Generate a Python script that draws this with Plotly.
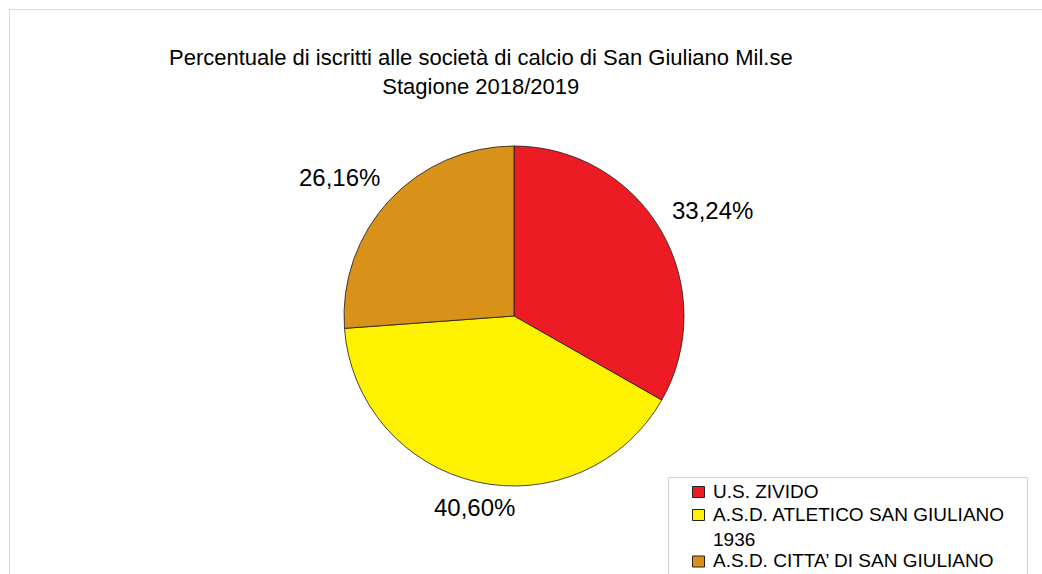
import math
import plotly.graph_objects as go

# Membership share per club, season 2018/2019
clubs = ["U.S. ZIVIDO", "A.S.D. ATLETICO SAN GIULIANO<br>1936", "A.S.D. CITTA’ DI SAN GIULIANO"]
shares = [33.24, 40.60, 26.16]
colors = ["#ED1C24", "#FFF200", "#D8921A"]

W, H = 1042, 574
FONT = "Liberation Sans"


def px_x(x):
    return x / W


def px_y(y):
    return 1 - y / H


# pie geometry in pixels
cx_px, cy_px, r_px = 514, 316, 170

fig = go.Figure(go.Pie(
    labels=clubs,
    values=shares,
    sort=False,
    direction="clockwise",
    rotation=0,
    textinfo="none",
    hoverinfo="label+percent",
    showlegend=False,
    marker=dict(colors=colors, line=dict(color="#1a1a1a", width=0.8)),
    domain=dict(x=[px_x(cx_px - r_px), px_x(cx_px + r_px)],
                y=[px_y(cy_px + r_px), px_y(cy_px - r_px)]),
))

annotations = []
shapes = []

# value labels: anchored just outside each slice on its mid-angle ray,
# with the anchor side chosen so the text sits away from the pie
label_font = 24
gap = 10
total = sum(shares)
start = 0.0
for v in shares:
    mid = (start + v / 2) / total * 2 * math.pi
    start += v
    s, c = math.sin(mid), math.cos(mid)
    txt = f"{v:.2f}%".replace(".", ",")
    d = r_px + gap
    xa = "left" if s > 0.3 else ("right" if s < -0.3 else "center")
    ya = "bottom" if c > 0.3 else ("top" if c < -0.3 else "middle")
    annotations.append(dict(
        x=px_x(cx_px + d * s), y=px_y(cy_px - d * c), xref="paper", yref="paper",
        text=txt, showarrow=False, xanchor=xa, yanchor=ya,
        font=dict(family=FONT, size=label_font, color="#000000"),
    ))

# chart title
annotations.append(dict(
    x=px_x(481), y=px_y(43), xref="paper", yref="paper",
    text="Percentuale di iscritti alle società di calcio di San Giuliano Mil.se<br>Stagione 2018/2019",
    showarrow=False, xanchor="center", yanchor="top", align="center",
    font=dict(family=FONT, size=22, color="#000000"),
))

# outer chart frame
shapes.append(dict(
    type="rect", xref="paper", yref="paper",
    x0=px_x(9.5), y0=px_y(9.5), x1=1.2, y1=-0.2,
    line=dict(color="#d9d9d9", width=1), fillcolor="rgba(0,0,0,0)", layer="below",
))

# legend box (runs past the bottom edge)
shapes.append(dict(
    type="rect", xref="paper", yref="paper",
    x0=px_x(668.5), y0=px_y(477.5), x1=px_x(1027.5), y1=-0.2,
    line=dict(color="#d0d0d0", width=1), fillcolor="#ffffff", layer="above",
))

# legend entries: swatch + label
legend_font = 19
line_h = 24.5
row_y = 492
for name, col in zip(clubs, colors):
    shapes.append(dict(
        type="rect", xref="paper", yref="paper",
        x0=px_x(692.5), x1=px_x(704.5),
        y0=px_y(row_y - 5.5), y1=px_y(row_y + 5.5),
        line=dict(color="#222222", width=1), fillcolor=col, layer="above",
    ))
    n_lines = name.count("<br>") + 1
    annotations.append(dict(
        x=px_x(711), y=px_y(row_y - line_h / 2 - 1), xref="paper", yref="paper",
        text=name, showarrow=False, xanchor="left", yanchor="top", align="left",
        font=dict(family=FONT, size=legend_font, color="#000000"),
    ))
    row_y += line_h * n_lines - (1.5 if n_lines == 1 else 2.5)

fig.update_layout(
    width=W, height=H,
    margin=dict(l=0, r=0, t=0, b=0),
    paper_bgcolor="#ffffff",
    plot_bgcolor="#ffffff",
    annotations=annotations,
    shapes=shapes,
    showlegend=False,
)

fig.write_html("out.html")
